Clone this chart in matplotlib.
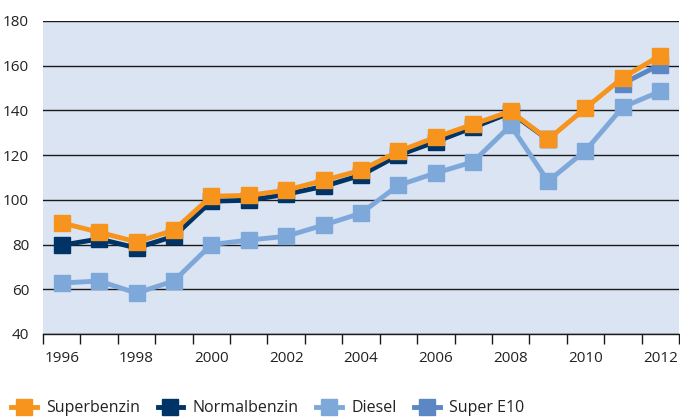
import numpy as np
import matplotlib.pyplot as plt
from matplotlib.ticker import FixedLocator, NullFormatter

plt.rcParams['font.family'] = ['Open Sans', 'DejaVu Sans']

years = list(range(1996, 2013))
superbenzin = [89.7, 85.5, 81.2, 86.4, 101.6, 102.0, 104.3, 108.7, 113.2, 121.7,
               128.0, 133.8, 139.6, 127.0, 141.0, 154.7, 164.5]
normal_years = list(range(1996, 2010))
normalbenzin = [79.7, 82.5, 78.5, 83.7, 99.4, 99.8, 102.5, 106.0, 111.0, 120.0,
                126.0, 132.4, 139.0, 127.0]
diesel = [62.8, 63.7, 58.3, 63.7, 80.0, 82.0, 83.7, 88.7, 94.0, 106.5,
          112.0, 117.0, 133.3, 108.3, 122.0, 141.5, 148.5]
e10_years = [2011, 2012]
super_e10 = [152.0, 160.5]

c_super = "#f7941d"
c_normal = "#003366"
c_diesel = "#7fa8da"
c_e10 = "#5b87c5"

fig = plt.figure(figsize=(6.8, 4.18), dpi=100)
ax = fig.add_axes([0.0632, 0.201, 0.9353, 0.7488])
ax.set_facecolor("#dae4f2")

def xs(ys):
    return np.array(ys) - 1996

style = dict(linewidth=3.5, marker="s", markersize=11, solid_joinstyle="miter")
ax.plot(xs(normal_years), normalbenzin, color=c_normal, label="Normalbenzin", zorder=3, **style)
ax.plot(xs(years), diesel, color=c_diesel, label="Diesel", zorder=3, **style)
ax.plot(xs(e10_years), super_e10, color=c_e10, label="Super E10", zorder=3, **style)
ax.plot(xs(years), superbenzin, color=c_super, label="Superbenzin", zorder=4, **style)

ax.set_xlim(-0.5, 16.5)
ax.set_ylim(40, 180)
ax.set_yticks(range(40, 181, 20))
ax.grid(axis="y", color="#1a1a1a", linewidth=1.0, zorder=1)
ax.set_axisbelow(True)

ax.xaxis.set_major_locator(FixedLocator(np.arange(-0.5, 17, 1)))
ax.xaxis.set_major_formatter(NullFormatter())
ax.xaxis.set_minor_locator(FixedLocator(np.arange(0, 17, 2)))
ax.set_xticklabels([str(y) for y in years[::2]], minor=True)
ax.tick_params(axis="x", which="major", direction="out", length=7, width=1, color="#1a1a1a")
ax.tick_params(axis="x", which="minor", length=0, pad=12, labelsize=11, labelcolor="#222222")
ax.tick_params(axis="y", length=0, pad=10, labelsize=11, labelcolor="#222222")

for s in ["left", "right", "top"]:
    ax.spines[s].set_visible(False)
ax.spines["bottom"].set_color("#1a1a1a")
ax.spines["bottom"].set_linewidth(1.0)

h, l = ax.get_legend_handles_labels()
order = [3, 0, 1, 2]
fig.legend([h[i] for i in order], [l[i] for i in order], loc="lower left",
           bbox_to_anchor=(-0.005, -0.03), ncol=4, frameon=False, fontsize=11.5,
           handlelength=1.6, handletextpad=0.6, columnspacing=1.1,
           labelcolor="#222222")

fig.savefig("out.png", dpi=100)
